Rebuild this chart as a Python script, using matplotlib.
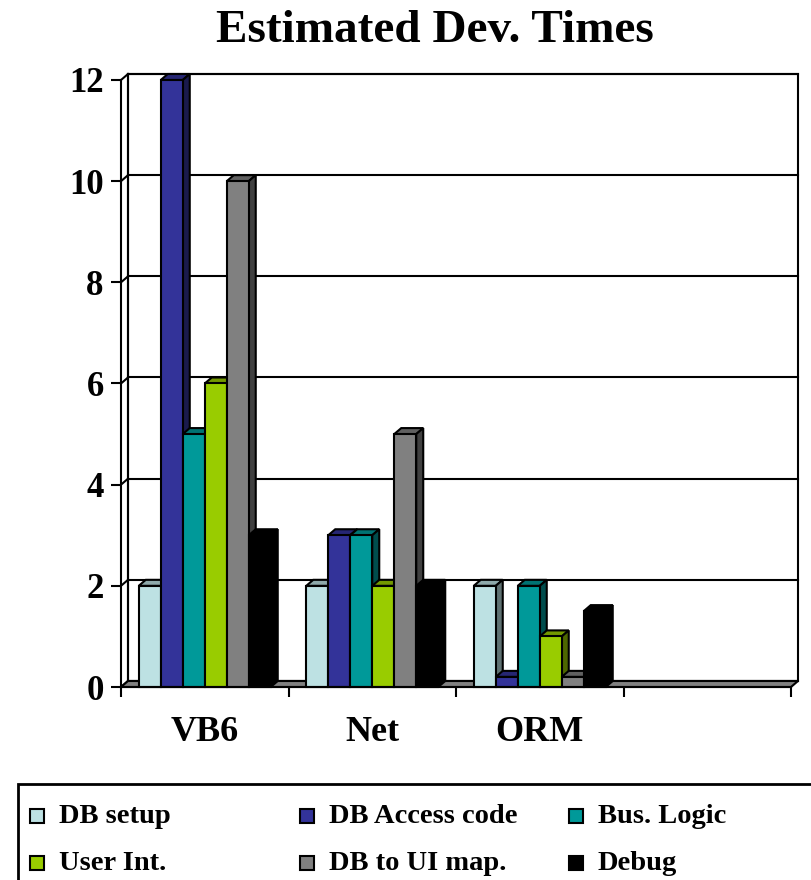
import matplotlib
matplotlib.use("Agg")
import matplotlib.pyplot as plt
from matplotlib.patches import Polygon, Rectangle
import numpy as np

# data
categories = ["VB6", "Net", "ORM", ""]
series = ["DB setup", "DB Access code", "Bus. Logic", "User Int.", "DB to UI map.", "Debug"]
db_setup = [2, 2, 2]
db_access = [12, 3, 0.2]
bus_logic = [5, 3, 2]
user_int = [6, 2, 1]
db_to_ui = [10, 5, 0.2]
debug = [3, 2, 1.5]
values = [db_setup, db_access, bus_logic, user_int, db_to_ui, debug]
colors = ["#BDE1E3", "#333399", "#009999", "#99CC00", "#808080", "#000000"]
yticks = [0, 2, 4, 6, 8, 10, 12]

FONT = ["Liberation Serif", "DejaVu Serif"]
W, H = 812, 880
fig = plt.figure(figsize=(W / 100, H / 100), dpi=100)

# plot area in pixels (front plane)
x0, x1, ybot, ytop = 121, 791, 687, 80
ax = fig.add_axes([x0 / W, 1 - ybot / H, (x1 - x0) / W, (ybot - ytop) / H])
ncat = len(categories)
ax.set_xlim(0, ncat)
ax.set_ylim(0, 12)

# depth offset of the 3d box, in data units
dx = 7 / ((x1 - x0) / ncat)
dy = 6 / ((ybot - ytop) / 12)
lw = 1.5


def shade(c, f):
    rgb = np.array(matplotlib.colors.to_rgb(c))
    return tuple(rgb * f)


# back wall, left wall, floor
ax.add_patch(Polygon([(dx, dy), (ncat + dx, dy), (ncat + dx, 12 + dy), (dx, 12 + dy)],
                     closed=True, fc="white", ec="black", lw=lw, clip_on=False, zorder=1))
for v in yticks:
    ax.plot([dx, ncat + dx], [v + dy, v + dy], color="black", lw=lw, clip_on=False, zorder=2)
    ax.plot([0, dx], [v, v + dy], color="black", lw=lw, clip_on=False, zorder=2)
ax.plot([dx, dx], [dy, 12 + dy], color="black", lw=lw, clip_on=False, zorder=2)
ax.add_patch(Polygon([(0, 0), (ncat, 0), (ncat + dx, dy), (dx, dy)], closed=True,
                     fc="#808080", ec="black", lw=lw, clip_on=False, zorder=3))

# bars
group_w = 0.788
bw = group_w / len(series)
z = 4
for c in range(len(db_setup)):
    for i, vals in enumerate(values):
        h = vals[c]
        left = c + 0.5 - group_w / 2 + i * bw
        col = colors[i]
        ax.bar(left, h, width=bw, align="edge", color=col, edgecolor="black",
               linewidth=lw, zorder=z + 2, clip_on=False)
        ax.add_patch(Polygon([(left, h), (left + dx, h + dy), (left + bw + dx, h + dy), (left + bw, h)],
                             closed=True, fc=shade(col, 0.75), ec="black", lw=lw,
                             clip_on=False, zorder=z))
        ax.add_patch(Polygon([(left + bw, 0), (left + bw + dx, dy), (left + bw + dx, h + dy), (left + bw, h)],
                             closed=True, fc=shade(col, 0.5), ec="black", lw=lw,
                             clip_on=False, zorder=z + 1))
        z += 3

# axes
for s in ["top", "right"]:
    ax.spines[s].set_visible(False)
ax.spines["left"].set_linewidth(lw)
ax.spines["bottom"].set_linewidth(lw)
ax.spines["left"].set_zorder(200)
ax.spines["bottom"].set_zorder(200)
ax.set_yticks(yticks)
ax.set_yticklabels([str(v) for v in yticks], fontsize=25, fontweight="bold", family=FONT)
ax.tick_params(axis="y", length=7.5, width=lw, pad=5)
ax.set_xticks(np.arange(ncat) + 0.5)
ax.set_xticklabels(categories, fontsize=26, fontweight="bold", family=FONT)
ax.set_xticks(np.arange(ncat + 1), minor=True)
ax.tick_params(axis="x", which="major", length=0, pad=21)
ax.tick_params(axis="x", which="minor", length=7.5, width=lw)
ax.set_facecolor("none")

fig.text(435 / W, 1 - 42 / H, "Estimated Dev. Times", ha="center", va="baseline",
         fontsize=34, fontweight="bold", family=FONT)

# legend box, running past the right and bottom edges
fig.patches.append(Rectangle((18 / W, -0.1), 1.1, 0.1 + (H - 784) / H, transform=fig.transFigure,
                             fc="white", ec="black", lw=2, zorder=0))
col_x = [30, 300, 569]
row_y = [823, 870]
for k, name in enumerate(series):
    px = col_x[k % 3]
    py = row_y[k // 3]
    fig.patches.append(Rectangle((px / W, 1 - py / H), 14 / W, 14 / H, transform=fig.transFigure,
                                 fc=colors[k], ec="black", lw=1.5, zorder=2))
    fig.text((px + 29) / W, 1 - py / H, name, ha="left", va="baseline", fontsize=20.5,
             fontweight="bold", family=FONT)

fig.savefig("out.png", dpi=100)
